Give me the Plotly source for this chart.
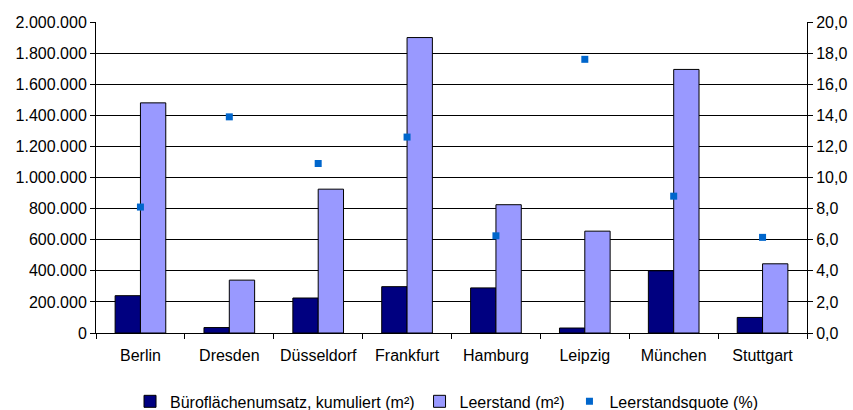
import plotly.graph_objects as go

cities = ["Berlin", "Dresden", "Düsseldorf", "Frankfurt", "Hamburg", "Leipzig", "München", "Stuttgart"]
umsatz = [240000, 35000, 225000, 298000, 290000, 32000, 400000, 100000]
leerstand = [1480000, 340000, 925000, 1900000, 825000, 655000, 1695000, 445000]
quote = [8.1, 13.9, 10.9, 12.6, 6.25, 17.6, 8.8, 6.15]

left_ticks = [0, 200000, 400000, 600000, 800000, 1000000, 1200000, 1400000, 1600000, 1800000, 2000000]
right_ticks = [0, 2, 4, 6, 8, 10, 12, 14, 16, 18, 20]

fig = go.Figure()
fig.add_trace(go.Bar(x=cities, y=umsatz, name="Büroflächenumsatz, kumuliert (m²)",
                     marker=dict(color="#000080", line=dict(color="#000000", width=1))))
fig.add_trace(go.Bar(x=cities, y=leerstand, name="Leerstand (m²)",
                     marker=dict(color="#9999FF", line=dict(color="#000000", width=1))))
fig.add_trace(go.Scatter(x=cities, y=quote, name="Leerstandsquote (%)", yaxis="y2", mode="markers",
                         marker=dict(symbol="square", size=7, color="#0066CC")))

font = dict(family="Liberation Sans, Arial, sans-serif", size=16, color="#000000")
fig.update_layout(
    width=853, height=410,
    margin=dict(l=96, r=46, t=22, b=77, autoexpand=False),
    paper_bgcolor="white", plot_bgcolor="white",
    separators=",.",
    font=font,
    barmode="group", bargap=0.43, bargroupgap=0,
    showlegend=True,
    legend=dict(orientation="h", x=0.493, xanchor="center", y=-0.22, yanchor="middle",
                font=dict(family="Liberation Sans, Arial, sans-serif", size=16, color="#000000"),
                itemwidth=30, tracegroupgap=0, bgcolor="rgba(0,0,0,0)"),
    xaxis=dict(type="category", showline=True, linecolor="#000000", linewidth=1,
               ticks="outside", tickson="boundaries", ticklen=5, tickcolor="#000000",
               ticklabelstandoff=8,
               showgrid=False, tickfont=font, automargin=False),
    yaxis=dict(range=[0, 2000000], tickvals=left_ticks, tickformat=",d",
               showline=True, linecolor="#000000", linewidth=1,
               ticks="outside", ticklen=5, tickcolor="#000000",
               showgrid=True, gridcolor="#000000", gridwidth=1, zeroline=False, tickfont=font,
               automargin=False),
    yaxis2=dict(range=[0, 20], tickvals=right_ticks, tickformat=".1f", overlaying="y", side="right",
                showline=True, linecolor="#000000", linewidth=1,
                ticks="outside", ticklen=5, tickcolor="#000000",
                showgrid=False, zeroline=False, tickfont=font, automargin=False),
)

fig.write_html("out.html", config={"displayModeBar": False},
               post_script="document.body.style.margin='0';document.body.style.padding='0';")
